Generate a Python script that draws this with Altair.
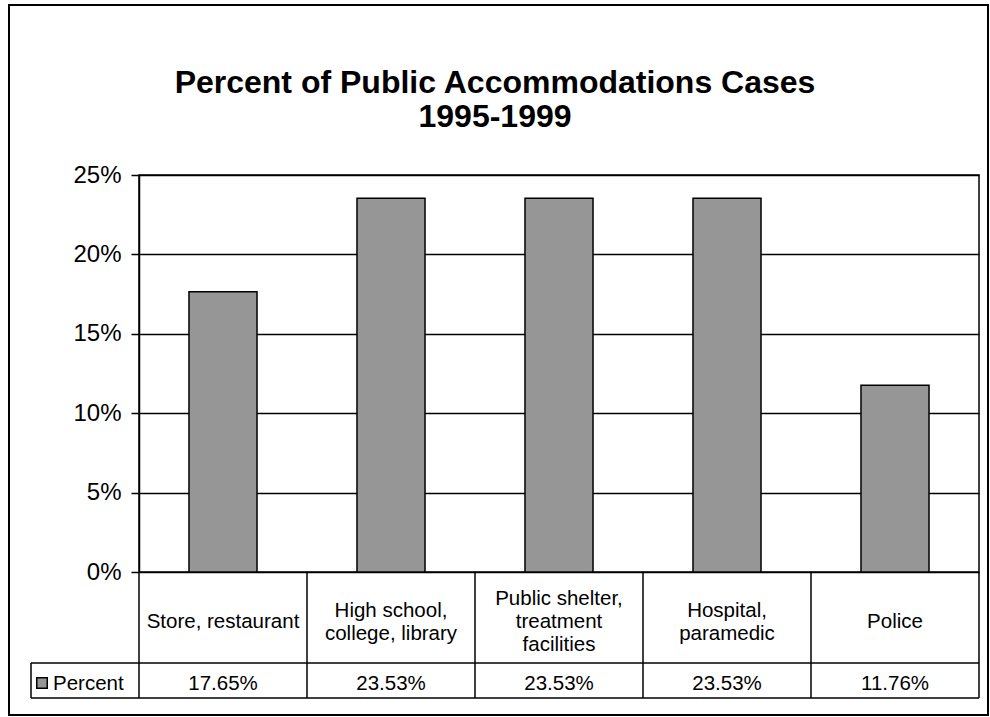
import altair as alt
import pandas as pd

# ---- data ----
categories = [
    "Store, restaurant",
    "High school,\ncollege, library",
    "Public shelter,\ntreatment\nfacilities",
    "Hospital,\nparamedic",
    "Police",
]
values = [0.1765, 0.2353, 0.2353, 0.2353, 0.1176]
y_ticks = [0, 0.05, 0.10, 0.15, 0.20, 0.25]
series_name = ["Percent"]
title_lines = ["Percent of Public Accommodations Cases", "1995-1999"]

FONT = "Liberation Sans, Arial, sans-serif"
BAR_FILL = "#969696"
W, H = 840, 397          # plot area
CAT_BOTTOM = 488         # bottom of the category-label row (relative to plot top)
PCT_BOTTOM = 523         # bottom of the value row
LEG_LEFT = -108          # left edge of the legend cell
LINE_H = 23              # line height of the wrapped category labels
CAT_MID = 447            # vertical centre of the category-label blocks
VAL_MID = 509            # vertical centre of the value row text

df = pd.DataFrame({"category": categories, "value": values})
df["nlines"] = df["category"].str.count("\n") + 1

x_enc = alt.X("category:N", sort=categories, axis=None,
              scale=alt.Scale(paddingInner=0, paddingOuter=0))

bars = alt.Chart(df).mark_bar(
    fill=BAR_FILL, stroke="black", strokeWidth=1.5,
    width=alt.RelativeBandSize(0.405)
).encode(
    x=x_enc,
    y=alt.Y("value:Q", scale=alt.Scale(domain=[0, 0.25], nice=False),
            axis=alt.Axis(values=y_ticks, format=".0%", title=None,
                          grid=True, gridColor="black", gridWidth=1.5,
                          domainColor="black", domainWidth=1.5,
                          tickColor="black", tickWidth=1.5, tickSize=8,
                          labelFontSize=24, labelColor="black", labelFont=FONT,
                          labelPadding=10)),
)

# category-label row of the data table (one layer per number of wrapped lines,
# shifted so that every block is centred in its cell)
cat_layers = []
for n in sorted(df["nlines"].unique()):
    cat_layers.append(
        alt.Chart(df).transform_filter(alt.datum.nlines == int(n)).mark_text(
            font=FONT, fontSize=20.5, color="black", lineBreak="\n",
            lineHeight=LINE_H, baseline="middle", align="center",
            dy=-(int(n) - 1) * LINE_H / 2
        ).encode(
            x=x_enc,
            y=alt.value(CAT_MID),
            text="category:N",
        )
    )

# value row of the data table
val_text = alt.Chart(df).mark_text(
    font=FONT, fontSize=20.5, color="black", baseline="middle", align="center"
).encode(
    x=x_enc,
    y=alt.value(VAL_MID),
    text=alt.Text("value:Q", format=".2%"),
)

# vertical cell borders at the start of each category band
vlines = alt.Chart(df).mark_rule(color="black", strokeWidth=1.5).encode(
    x=alt.X("category:N", sort=categories, axis=None, bandPosition=0,
            scale=alt.Scale(paddingInner=0, paddingOuter=0)),
    y=alt.value(H),
    y2=alt.value(PCT_BOTTOM),
)

one = pd.DataFrame({"k": [0]})
right_edge = alt.Chart(one).mark_rule(color="black", strokeWidth=1.5).encode(
    x=alt.value(W), y=alt.value(H), y2=alt.value(PCT_BOTTOM))
hline1 = alt.Chart(one).mark_rule(color="black", strokeWidth=1.5).encode(
    x=alt.value(LEG_LEFT), x2=alt.value(W), y=alt.value(CAT_BOTTOM))
hline2 = alt.Chart(one).mark_rule(color="black", strokeWidth=1.5).encode(
    x=alt.value(LEG_LEFT), x2=alt.value(W), y=alt.value(PCT_BOTTOM))
leg_left = alt.Chart(one).mark_rule(color="black", strokeWidth=1.5).encode(
    x=alt.value(LEG_LEFT), y=alt.value(CAT_BOTTOM), y2=alt.value(PCT_BOTTOM))

leg_df = pd.DataFrame({"name": series_name})
leg_sym = alt.Chart(leg_df).mark_point(
    shape="square", filled=True, fill=BAR_FILL, stroke="black", strokeWidth=1.5,
    size=110, opacity=1
).encode(x=alt.value(LEG_LEFT + 11), y=alt.value(VAL_MID - 1))
leg_txt = alt.Chart(leg_df).mark_text(
    font=FONT, fontSize=20.5, color="black", align="left", baseline="middle"
).encode(x=alt.value(LEG_LEFT + 22), y=alt.value(VAL_MID), text="name:N")

# outer chart-area border
border = alt.Chart(one).mark_rect(fill=None, stroke="black", strokeWidth=2).encode(
    x=alt.value(-130), x2=alt.value(849), y=alt.value(-170), y2=alt.value(540))

title_df = pd.DataFrame({"t": ["\n".join(title_lines)]})
title = alt.Chart(title_df).mark_text(
    font=FONT, fontSize=32, fontWeight="bold", color="black",
    lineBreak="\n", lineHeight=34, align="center", baseline="middle"
).encode(x=alt.value(356), y=alt.value(-92), text="t:N")

chart = alt.layer(
    border, bars, *cat_layers, val_text, vlines, right_edge, hline1, hline2,
    leg_left, leg_sym, leg_txt, title
).properties(
    width=W, height=H,
    autosize=alt.AutoSizeParams(type="none"),
    padding={"left": 139, "top": 175, "right": 11, "bottom": 145},
    background="white",
).configure_view(stroke="black", strokeWidth=1.5)

chart.save("out.html", embed_options={"renderer": "svg", "actions": False})
